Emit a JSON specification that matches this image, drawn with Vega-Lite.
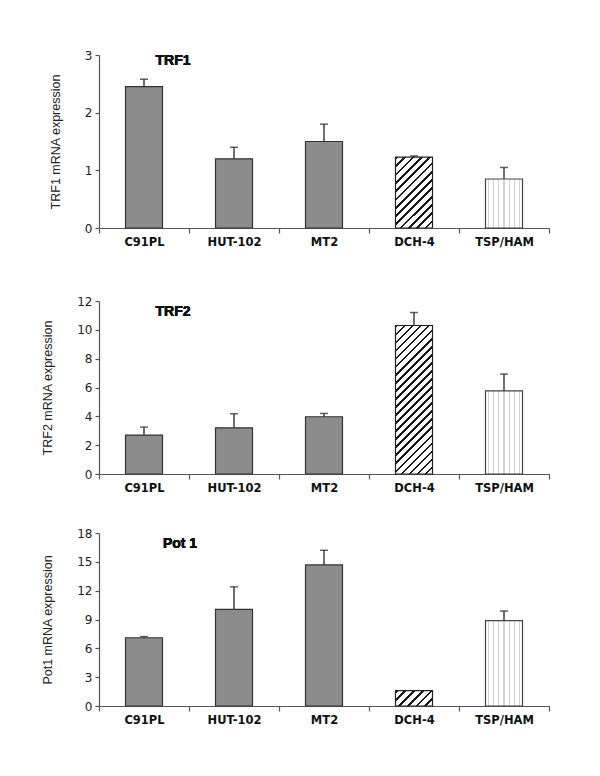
{
  "$schema": "https://vega.github.io/schema/vega-lite/v6.json",
  "padding": {"left": 41, "top": 49, "right": 5, "bottom": 5},
  "spacing": 33,
  "datasets": {
    "trf1": [
      {"line": "C91PL", "value": 2.45, "err": 2.58, "kind": "solid"},
      {"line": "HUT-102", "value": 1.2, "err": 1.4, "kind": "solid"},
      {"line": "MT2", "value": 1.5, "err": 1.8, "kind": "solid"},
      {"line": "DCH-4", "value": 1.23, "err": 1.25, "kind": "hatch"},
      {"line": "TSP/HAM", "value": 0.85, "err": 1.05, "kind": "dots"}
    ],
    "trf2": [
      {"line": "C91PL", "value": 2.7, "err": 3.25, "kind": "solid"},
      {"line": "HUT-102", "value": 3.2, "err": 4.18, "kind": "solid"},
      {"line": "MT2", "value": 3.97, "err": 4.2, "kind": "solid"},
      {"line": "DCH-4", "value": 10.3, "err": 11.2, "kind": "hatch"},
      {"line": "TSP/HAM", "value": 5.76, "err": 6.93, "kind": "dots"}
    ],
    "pot1": [
      {"line": "C91PL", "value": 7.1, "err": 7.22, "kind": "solid"},
      {"line": "HUT-102", "value": 10.05, "err": 12.4, "kind": "solid"},
      {"line": "MT2", "value": 14.68, "err": 16.2, "kind": "solid"},
      {"line": "DCH-4", "value": 1.6, "err": null, "kind": "hatch"},
      {"line": "TSP/HAM", "value": 8.88, "err": 9.88, "kind": "dots"}
    ]
  },
  "config": {
    "view": {"stroke": null},
    "axis": {"grid": false, "domainColor": "#555", "tickColor": "#555", "labelColor": "#222", "titleColor": "#222", "domainWidth": 1.2, "tickWidth": 1.2},
    "axisY": {"format": "d", "labelOverlap": false, "tickSize": 4, "labelPadding": 3, "labelFont": "DejaVu Sans", "labelFontSize": 12, "titleFont": "Liberation Sans", "titleFontSize": 12.5, "titleFontWeight": "normal", "titlePadding": 22}
  },
  "vconcat": [
    {
      "width": 450, "height": 173,
      "data": {"name": "trf1"},
      "encoding": {
        "x": {"field": "line", "type": "nominal", "scale": {"domain": ["C91PL", "HUT-102", "MT2", "DCH-4", "TSP/HAM"], "paddingInner": 0, "paddingOuter": 0},
          "axis": {"title": " ", "titleFontSize": 11, "titlePadding": 3, "labelAngle": 0, "labelFont": "DejaVu Sans", "labelFontWeight": "bold", "labelFontSize": 11.5, "labelColor": "#111", "tickBand": "extent", "tickSize": 5, "labelPadding": 3}}
      },
      "layer": [
        {"transform": [{"filter": "datum.err != null"}], "mark": {"type": "rule", "color": "#222", "strokeWidth": 1.3},
          "encoding": {"y": {"field": "err", "type": "quantitative", "title": "TRF1 mRNA expression", "scale": {"domain": [0, 3], "nice": false}, "axis": {"values": [0, 1, 2, 3]}}, "y2": {"field": "value"}}},
        {"transform": [{"filter": "datum.err != null"}], "mark": {"type": "tick", "color": "#222", "thickness": 1.5, "size": 8},
          "encoding": {"y": {"field": "err", "type": "quantitative", "title": "TRF1 mRNA expression", "axis": {"values": [0, 1, 2, 3]}}}},
        {"transform": [{"filter": "datum.kind == 'solid'"}], "mark": {"type": "bar", "size": 37, "fill": "#8c8c8c", "stroke": "#333", "strokeWidth": 1.2},
          "encoding": {"y": {"field": "value", "type": "quantitative", "title": "TRF1 mRNA expression", "axis": {"values": [0, 1, 2, 3]}}}},
        {"transform": [{"filter": "datum.kind == 'hatch'"}], "mark": {"type": "bar", "size": 37, "stroke": "#222", "strokeWidth": 1.2,
          "fill": {"gradient": "linear", "x1": 0, "y1": 0, "x2": 0.623, "y2": 1.196, "stops": [
            {"offset": 0, "color": "#1a1a1a"}, {"offset": 0.0254, "color": "#1a1a1a"}, {"offset": 0.0254, "color": "#fff"}, {"offset": 0.0769, "color": "#fff"},
            {"offset": 0.0769, "color": "#1a1a1a"}, {"offset": 0.1023, "color": "#1a1a1a"}, {"offset": 0.1023, "color": "#fff"}, {"offset": 0.1538, "color": "#fff"},
            {"offset": 0.1538, "color": "#1a1a1a"}, {"offset": 0.1792, "color": "#1a1a1a"}, {"offset": 0.1792, "color": "#fff"}, {"offset": 0.2308, "color": "#fff"},
            {"offset": 0.2308, "color": "#1a1a1a"}, {"offset": 0.2562, "color": "#1a1a1a"}, {"offset": 0.2562, "color": "#fff"}, {"offset": 0.3077, "color": "#fff"},
            {"offset": 0.3077, "color": "#1a1a1a"}, {"offset": 0.3331, "color": "#1a1a1a"}, {"offset": 0.3331, "color": "#fff"}, {"offset": 0.3846, "color": "#fff"},
            {"offset": 0.3846, "color": "#1a1a1a"}, {"offset": 0.41, "color": "#1a1a1a"}, {"offset": 0.41, "color": "#fff"}, {"offset": 0.4615, "color": "#fff"},
            {"offset": 0.4615, "color": "#1a1a1a"}, {"offset": 0.4869, "color": "#1a1a1a"}, {"offset": 0.4869, "color": "#fff"}, {"offset": 0.5385, "color": "#fff"},
            {"offset": 0.5385, "color": "#1a1a1a"}, {"offset": 0.5639, "color": "#1a1a1a"}, {"offset": 0.5639, "color": "#fff"}, {"offset": 0.6154, "color": "#fff"},
            {"offset": 0.6154, "color": "#1a1a1a"}, {"offset": 0.6408, "color": "#1a1a1a"}, {"offset": 0.6408, "color": "#fff"}, {"offset": 0.6923, "color": "#fff"},
            {"offset": 0.6923, "color": "#1a1a1a"}, {"offset": 0.7177, "color": "#1a1a1a"}, {"offset": 0.7177, "color": "#fff"}, {"offset": 0.7692, "color": "#fff"},
            {"offset": 0.7692, "color": "#1a1a1a"}, {"offset": 0.7946, "color": "#1a1a1a"}, {"offset": 0.7946, "color": "#fff"}, {"offset": 0.8462, "color": "#fff"},
            {"offset": 0.8462, "color": "#1a1a1a"}, {"offset": 0.8716, "color": "#1a1a1a"}, {"offset": 0.8716, "color": "#fff"}, {"offset": 0.9231, "color": "#fff"},
            {"offset": 0.9231, "color": "#1a1a1a"}, {"offset": 0.9485, "color": "#1a1a1a"}, {"offset": 0.9485, "color": "#fff"}, {"offset": 1, "color": "#fff"}
          ]}},
          "encoding": {"y": {"field": "value", "type": "quantitative", "title": "TRF1 mRNA expression", "axis": {"values": [0, 1, 2, 3]}}}},
        {"transform": [{"filter": "datum.kind == 'dots'"}], "mark": {"type": "bar", "size": 37, "stroke": "#444", "strokeWidth": 1.2,
          "fill": {"gradient": "linear", "x1": 0, "y1": 0, "x2": 1, "y2": 0, "stops": [
            {"offset": 0, "color": "#fff"}, {"offset": 0.0554, "color": "#fff"}, {"offset": 0.0554, "color": "#d2d2d2"}, {"offset": 0.0874, "color": "#d2d2d2"}, {"offset": 0.0874, "color": "#fff"},
            {"offset": 0.1983, "color": "#fff"}, {"offset": 0.1983, "color": "#d2d2d2"}, {"offset": 0.2303, "color": "#d2d2d2"}, {"offset": 0.2303, "color": "#fff"},
            {"offset": 0.3411, "color": "#fff"}, {"offset": 0.3411, "color": "#d2d2d2"}, {"offset": 0.3731, "color": "#d2d2d2"}, {"offset": 0.3731, "color": "#fff"},
            {"offset": 0.484, "color": "#fff"}, {"offset": 0.484, "color": "#d2d2d2"}, {"offset": 0.516, "color": "#d2d2d2"}, {"offset": 0.516, "color": "#fff"},
            {"offset": 0.6269, "color": "#fff"}, {"offset": 0.6269, "color": "#d2d2d2"}, {"offset": 0.6589, "color": "#d2d2d2"}, {"offset": 0.6589, "color": "#fff"},
            {"offset": 0.7697, "color": "#fff"}, {"offset": 0.7697, "color": "#d2d2d2"}, {"offset": 0.8017, "color": "#d2d2d2"}, {"offset": 0.8017, "color": "#fff"},
            {"offset": 0.9126, "color": "#fff"}, {"offset": 0.9126, "color": "#d2d2d2"}, {"offset": 0.9446, "color": "#d2d2d2"}, {"offset": 0.9446, "color": "#fff"},
            {"offset": 1, "color": "#fff"}
          ]}},
          "encoding": {"y": {"field": "value", "type": "quantitative", "title": "TRF1 mRNA expression", "axis": {"values": [0, 1, 2, 3]}}}},
        {"mark": {"type": "text", "font": "Liberation Sans", "fontWeight": "bold", "fontSize": 14, "dx": 29, "dy": 6, "baseline": "middle", "color": "#111"},
          "encoding": {"x": {"datum": "C91PL", "type": "nominal"}, "y": {"datum": 3, "type": "quantitative", "title": "TRF1 mRNA expression", "axis": {"values": [0, 1, 2, 3]}}, "text": {"value": "TRF1"}}}
      ]
    },
    {
      "width": 450, "height": 173,
      "data": {"name": "trf2"},
      "encoding": {
        "x": {"field": "line", "type": "nominal", "scale": {"domain": ["C91PL", "HUT-102", "MT2", "DCH-4", "TSP/HAM"], "paddingInner": 0, "paddingOuter": 0},
          "axis": {"title": null, "labelAngle": 0, "labelFont": "DejaVu Sans", "labelFontWeight": "bold", "labelFontSize": 11.5, "labelColor": "#111", "tickBand": "extent", "tickSize": 5, "labelPadding": 3}}
      },
      "layer": [
        {"transform": [{"filter": "datum.err != null"}], "mark": {"type": "rule", "color": "#222", "strokeWidth": 1.3},
          "encoding": {"y": {"field": "err", "type": "quantitative", "title": "TRF2 mRNA expression", "scale": {"domain": [0, 12], "nice": false}, "axis": {"values": [0, 2, 4, 6, 8, 10, 12]}}, "y2": {"field": "value"}}},
        {"transform": [{"filter": "datum.err != null"}], "mark": {"type": "tick", "color": "#222", "thickness": 1.5, "size": 8},
          "encoding": {"y": {"field": "err", "type": "quantitative", "title": "TRF2 mRNA expression", "axis": {"values": [0, 2, 4, 6, 8, 10, 12]}}}},
        {"transform": [{"filter": "datum.kind == 'solid'"}], "mark": {"type": "bar", "size": 37, "fill": "#8c8c8c", "stroke": "#333", "strokeWidth": 1.2},
          "encoding": {"y": {"field": "value", "type": "quantitative", "title": "TRF2 mRNA expression", "axis": {"values": [0, 2, 4, 6, 8, 10, 12]}}}},
        {"transform": [{"filter": "datum.kind == 'hatch'"}], "mark": {"type": "bar", "size": 37, "stroke": "#222", "strokeWidth": 1.2,
          "fill": {"gradient": "linear", "x1": 0, "y1": 0, "x2": 0.293, "y2": 1.175, "stops": [
            {"offset": 0, "color": "#1a1a1a"}, {"offset": 0.0145, "color": "#1a1a1a"}, {"offset": 0.0145, "color": "#fff"}, {"offset": 0.0435, "color": "#fff"},
            {"offset": 0.0435, "color": "#1a1a1a"}, {"offset": 0.058, "color": "#1a1a1a"}, {"offset": 0.058, "color": "#fff"}, {"offset": 0.087, "color": "#fff"},
            {"offset": 0.087, "color": "#1a1a1a"}, {"offset": 0.1015, "color": "#1a1a1a"}, {"offset": 0.1015, "color": "#fff"}, {"offset": 0.1304, "color": "#fff"},
            {"offset": 0.1304, "color": "#1a1a1a"}, {"offset": 0.1449, "color": "#1a1a1a"}, {"offset": 0.1449, "color": "#fff"}, {"offset": 0.1739, "color": "#fff"},
            {"offset": 0.1739, "color": "#1a1a1a"}, {"offset": 0.1884, "color": "#1a1a1a"}, {"offset": 0.1884, "color": "#fff"}, {"offset": 0.2174, "color": "#fff"},
            {"offset": 0.2174, "color": "#1a1a1a"}, {"offset": 0.2319, "color": "#1a1a1a"}, {"offset": 0.2319, "color": "#fff"}, {"offset": 0.2609, "color": "#fff"},
            {"offset": 0.2609, "color": "#1a1a1a"}, {"offset": 0.2754, "color": "#1a1a1a"}, {"offset": 0.2754, "color": "#fff"}, {"offset": 0.3043, "color": "#fff"},
            {"offset": 0.3043, "color": "#1a1a1a"}, {"offset": 0.3188, "color": "#1a1a1a"}, {"offset": 0.3188, "color": "#fff"}, {"offset": 0.3478, "color": "#fff"},
            {"offset": 0.3478, "color": "#1a1a1a"}, {"offset": 0.3623, "color": "#1a1a1a"}, {"offset": 0.3623, "color": "#fff"}, {"offset": 0.3913, "color": "#fff"},
            {"offset": 0.3913, "color": "#1a1a1a"}, {"offset": 0.4058, "color": "#1a1a1a"}, {"offset": 0.4058, "color": "#fff"}, {"offset": 0.4348, "color": "#fff"},
            {"offset": 0.4348, "color": "#1a1a1a"}, {"offset": 0.4493, "color": "#1a1a1a"}, {"offset": 0.4493, "color": "#fff"}, {"offset": 0.4783, "color": "#fff"},
            {"offset": 0.4783, "color": "#1a1a1a"}, {"offset": 0.4928, "color": "#1a1a1a"}, {"offset": 0.4928, "color": "#fff"}, {"offset": 0.5217, "color": "#fff"},
            {"offset": 0.5217, "color": "#1a1a1a"}, {"offset": 0.5362, "color": "#1a1a1a"}, {"offset": 0.5362, "color": "#fff"}, {"offset": 0.5652, "color": "#fff"},
            {"offset": 0.5652, "color": "#1a1a1a"}, {"offset": 0.5797, "color": "#1a1a1a"}, {"offset": 0.5797, "color": "#fff"}, {"offset": 0.6087, "color": "#fff"},
            {"offset": 0.6087, "color": "#1a1a1a"}, {"offset": 0.6232, "color": "#1a1a1a"}, {"offset": 0.6232, "color": "#fff"}, {"offset": 0.6522, "color": "#fff"},
            {"offset": 0.6522, "color": "#1a1a1a"}, {"offset": 0.6667, "color": "#1a1a1a"}, {"offset": 0.6667, "color": "#fff"}, {"offset": 0.6957, "color": "#fff"},
            {"offset": 0.6957, "color": "#1a1a1a"}, {"offset": 0.7102, "color": "#1a1a1a"}, {"offset": 0.7102, "color": "#fff"}, {"offset": 0.7391, "color": "#fff"},
            {"offset": 0.7391, "color": "#1a1a1a"}, {"offset": 0.7536, "color": "#1a1a1a"}, {"offset": 0.7536, "color": "#fff"}, {"offset": 0.7826, "color": "#fff"},
            {"offset": 0.7826, "color": "#1a1a1a"}, {"offset": 0.7971, "color": "#1a1a1a"}, {"offset": 0.7971, "color": "#fff"}, {"offset": 0.8261, "color": "#fff"},
            {"offset": 0.8261, "color": "#1a1a1a"}, {"offset": 0.8406, "color": "#1a1a1a"}, {"offset": 0.8406, "color": "#fff"}, {"offset": 0.8696, "color": "#fff"},
            {"offset": 0.8696, "color": "#1a1a1a"}, {"offset": 0.8841, "color": "#1a1a1a"}, {"offset": 0.8841, "color": "#fff"}, {"offset": 0.913, "color": "#fff"},
            {"offset": 0.913, "color": "#1a1a1a"}, {"offset": 0.9275, "color": "#1a1a1a"}, {"offset": 0.9275, "color": "#fff"}, {"offset": 0.9565, "color": "#fff"},
            {"offset": 0.9565, "color": "#1a1a1a"}, {"offset": 0.971, "color": "#1a1a1a"}, {"offset": 0.971, "color": "#fff"}, {"offset": 1, "color": "#fff"}
          ]}},
          "encoding": {"y": {"field": "value", "type": "quantitative", "title": "TRF2 mRNA expression", "axis": {"values": [0, 2, 4, 6, 8, 10, 12]}}}},
        {"transform": [{"filter": "datum.kind == 'dots'"}], "mark": {"type": "bar", "size": 37, "stroke": "#444", "strokeWidth": 1.2,
          "fill": {"gradient": "linear", "x1": 0, "y1": 0, "x2": 1, "y2": 0, "stops": [
            {"offset": 0, "color": "#fff"}, {"offset": 0.0554, "color": "#fff"}, {"offset": 0.0554, "color": "#d2d2d2"}, {"offset": 0.0874, "color": "#d2d2d2"}, {"offset": 0.0874, "color": "#fff"},
            {"offset": 0.1983, "color": "#fff"}, {"offset": 0.1983, "color": "#d2d2d2"}, {"offset": 0.2303, "color": "#d2d2d2"}, {"offset": 0.2303, "color": "#fff"},
            {"offset": 0.3411, "color": "#fff"}, {"offset": 0.3411, "color": "#d2d2d2"}, {"offset": 0.3731, "color": "#d2d2d2"}, {"offset": 0.3731, "color": "#fff"},
            {"offset": 0.484, "color": "#fff"}, {"offset": 0.484, "color": "#d2d2d2"}, {"offset": 0.516, "color": "#d2d2d2"}, {"offset": 0.516, "color": "#fff"},
            {"offset": 0.6269, "color": "#fff"}, {"offset": 0.6269, "color": "#d2d2d2"}, {"offset": 0.6589, "color": "#d2d2d2"}, {"offset": 0.6589, "color": "#fff"},
            {"offset": 0.7697, "color": "#fff"}, {"offset": 0.7697, "color": "#d2d2d2"}, {"offset": 0.8017, "color": "#d2d2d2"}, {"offset": 0.8017, "color": "#fff"},
            {"offset": 0.9126, "color": "#fff"}, {"offset": 0.9126, "color": "#d2d2d2"}, {"offset": 0.9446, "color": "#d2d2d2"}, {"offset": 0.9446, "color": "#fff"},
            {"offset": 1, "color": "#fff"}
          ]}},
          "encoding": {"y": {"field": "value", "type": "quantitative", "title": "TRF2 mRNA expression", "axis": {"values": [0, 2, 4, 6, 8, 10, 12]}}}},
        {"mark": {"type": "text", "font": "Liberation Sans", "fontWeight": "bold", "fontSize": 14, "dx": 29, "dy": 11, "baseline": "middle", "color": "#111"},
          "encoding": {"x": {"datum": "C91PL", "type": "nominal"}, "y": {"datum": 12, "type": "quantitative", "title": "TRF2 mRNA expression", "axis": {"values": [0, 2, 4, 6, 8, 10, 12]}}, "text": {"value": "TRF2"}}}
      ]
    },
    {
      "width": 450, "height": 173,
      "data": {"name": "pot1"},
      "encoding": {
        "x": {"field": "line", "type": "nominal", "scale": {"domain": ["C91PL", "HUT-102", "MT2", "DCH-4", "TSP/HAM"], "paddingInner": 0, "paddingOuter": 0},
          "axis": {"title": null, "labelAngle": 0, "labelFont": "DejaVu Sans", "labelFontWeight": "bold", "labelFontSize": 11.5, "labelColor": "#111", "tickBand": "extent", "tickSize": 5, "labelPadding": 3}}
      },
      "layer": [
        {"transform": [{"filter": "datum.err != null"}], "mark": {"type": "rule", "color": "#222", "strokeWidth": 1.3},
          "encoding": {"y": {"field": "err", "type": "quantitative", "title": "Pot1 mRNA expression", "scale": {"domain": [0, 18], "nice": false}, "axis": {"values": [0, 3, 6, 9, 12, 15, 18]}}, "y2": {"field": "value"}}},
        {"transform": [{"filter": "datum.err != null"}], "mark": {"type": "tick", "color": "#222", "thickness": 1.5, "size": 8},
          "encoding": {"y": {"field": "err", "type": "quantitative", "title": "Pot1 mRNA expression", "axis": {"values": [0, 3, 6, 9, 12, 15, 18]}}}},
        {"transform": [{"filter": "datum.kind == 'solid'"}], "mark": {"type": "bar", "size": 37, "fill": "#8c8c8c", "stroke": "#333", "strokeWidth": 1.2},
          "encoding": {"y": {"field": "value", "type": "quantitative", "title": "Pot1 mRNA expression", "axis": {"values": [0, 3, 6, 9, 12, 15, 18]}}}},
        {"transform": [{"filter": "datum.kind == 'hatch'"}], "mark": {"type": "bar", "size": 37, "stroke": "#222", "strokeWidth": 1.2,
          "fill": {"gradient": "linear", "x1": 0, "y1": 0, "x2": 1.207, "y2": 0.502, "stops": [
            {"offset": 0, "color": "#1a1a1a"}, {"offset": 0.055, "color": "#1a1a1a"}, {"offset": 0.055, "color": "#fff"}, {"offset": 0.1667, "color": "#fff"},
            {"offset": 0.1667, "color": "#1a1a1a"}, {"offset": 0.2217, "color": "#1a1a1a"}, {"offset": 0.2217, "color": "#fff"}, {"offset": 0.3333, "color": "#fff"},
            {"offset": 0.3333, "color": "#1a1a1a"}, {"offset": 0.3883, "color": "#1a1a1a"}, {"offset": 0.3883, "color": "#fff"}, {"offset": 0.5, "color": "#fff"},
            {"offset": 0.5, "color": "#1a1a1a"}, {"offset": 0.555, "color": "#1a1a1a"}, {"offset": 0.555, "color": "#fff"}, {"offset": 0.6667, "color": "#fff"},
            {"offset": 0.6667, "color": "#1a1a1a"}, {"offset": 0.7217, "color": "#1a1a1a"}, {"offset": 0.7217, "color": "#fff"}, {"offset": 0.8333, "color": "#fff"},
            {"offset": 0.8333, "color": "#1a1a1a"}, {"offset": 0.8883, "color": "#1a1a1a"}, {"offset": 0.8883, "color": "#fff"}, {"offset": 1, "color": "#fff"}
          ]}},
          "encoding": {"y": {"field": "value", "type": "quantitative", "title": "Pot1 mRNA expression", "axis": {"values": [0, 3, 6, 9, 12, 15, 18]}}}},
        {"transform": [{"filter": "datum.kind == 'dots'"}], "mark": {"type": "bar", "size": 37, "stroke": "#444", "strokeWidth": 1.2,
          "fill": {"gradient": "linear", "x1": 0, "y1": 0, "x2": 1, "y2": 0, "stops": [
            {"offset": 0, "color": "#fff"}, {"offset": 0.0554, "color": "#fff"}, {"offset": 0.0554, "color": "#d2d2d2"}, {"offset": 0.0874, "color": "#d2d2d2"}, {"offset": 0.0874, "color": "#fff"},
            {"offset": 0.1983, "color": "#fff"}, {"offset": 0.1983, "color": "#d2d2d2"}, {"offset": 0.2303, "color": "#d2d2d2"}, {"offset": 0.2303, "color": "#fff"},
            {"offset": 0.3411, "color": "#fff"}, {"offset": 0.3411, "color": "#d2d2d2"}, {"offset": 0.3731, "color": "#d2d2d2"}, {"offset": 0.3731, "color": "#fff"},
            {"offset": 0.484, "color": "#fff"}, {"offset": 0.484, "color": "#d2d2d2"}, {"offset": 0.516, "color": "#d2d2d2"}, {"offset": 0.516, "color": "#fff"},
            {"offset": 0.6269, "color": "#fff"}, {"offset": 0.6269, "color": "#d2d2d2"}, {"offset": 0.6589, "color": "#d2d2d2"}, {"offset": 0.6589, "color": "#fff"},
            {"offset": 0.7697, "color": "#fff"}, {"offset": 0.7697, "color": "#d2d2d2"}, {"offset": 0.8017, "color": "#d2d2d2"}, {"offset": 0.8017, "color": "#fff"},
            {"offset": 0.9126, "color": "#fff"}, {"offset": 0.9126, "color": "#d2d2d2"}, {"offset": 0.9446, "color": "#d2d2d2"}, {"offset": 0.9446, "color": "#fff"},
            {"offset": 1, "color": "#fff"}
          ]}},
          "encoding": {"y": {"field": "value", "type": "quantitative", "title": "Pot1 mRNA expression", "axis": {"values": [0, 3, 6, 9, 12, 15, 18]}}}},
        {"mark": {"type": "text", "font": "Liberation Sans", "fontWeight": "bold", "fontSize": 14, "dx": 36, "dy": 11, "baseline": "middle", "color": "#111"},
          "encoding": {"x": {"datum": "C91PL", "type": "nominal"}, "y": {"datum": 18, "type": "quantitative", "title": "Pot1 mRNA expression", "axis": {"values": [0, 3, 6, 9, 12, 15, 18]}}, "text": {"value": "Pot 1"}}}
      ]
    }
  ]
}
